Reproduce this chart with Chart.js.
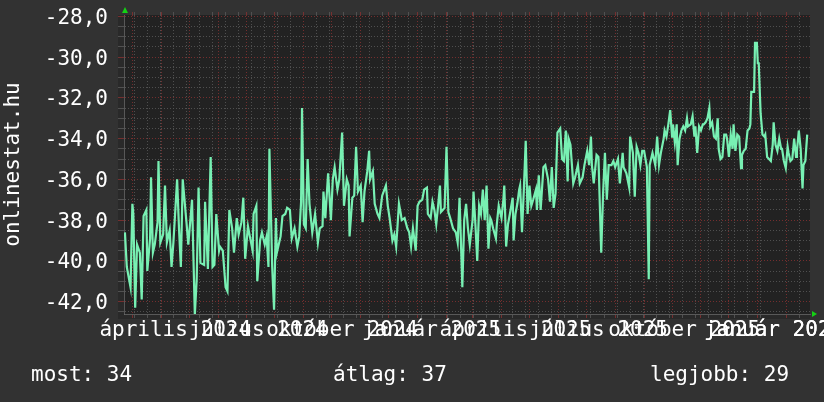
<!DOCTYPE html>
<html lang="hu">
<head>
<meta charset="utf-8">
<title>onlinestat.hu</title>
<script src="https://cdn.jsdelivr.net/npm/chart.js@4/dist/chart.umd.min.js"></script>
<style>
  html, body { margin: 0; padding: 0; background: #323232; }
  #doboz { position: relative; width: 824px; height: 402px; overflow: hidden; }
  #grafikon { position: absolute; left: 0; top: 0; }
  .stat { position: absolute; top: 362px; font: 21px 'DejaVu Sans Mono', monospace; line-height: 24px; color: #fff; white-space: pre; }
</style>
</head>
<body>
<div id="doboz">
  <canvas id="grafikon" width="824" height="402"></canvas>
  <div class="stat" id="most" style="left:31px"></div>
  <div class="stat" id="atlag" style="left:333px"></div>
  <div class="stat" id="legjobb" style="left:650px"></div>
</div>
<script>
// napok: eltelt napok 2024-01-01 ota
const napok = [
  52, 54, 56, 58, 60, 61, 63, 65, 68, 70, 72, 75, 76, 79, 80, 82, 84, 87, 88, 90,
  93, 95, 97, 100, 102, 104, 108, 110, 112, 114, 118, 120, 124, 127, 129, 131, 133, 137, 138, 141,
  144, 146, 148, 150, 153, 154, 157, 160, 162, 164, 167, 169, 172, 174, 177, 179, 181, 184, 186, 189,
  190, 193, 194, 197, 199, 202, 204, 206, 207, 210, 212, 214, 215, 219, 221, 224, 226, 229, 231, 234,
  237, 239, 241, 242, 244, 246, 248, 250, 253, 255, 256, 259, 261, 264, 265, 267, 270, 273, 275, 277,
  280, 282, 285, 287, 290, 292, 293, 296, 298, 300, 302, 305, 307, 309, 312, 314, 315, 318, 320, 323,
  325, 328, 332, 334, 336, 339, 341, 343, 346, 348, 349, 352, 355, 357, 359, 361, 364, 366, 368, 371,
  373, 376, 377, 380, 382, 384, 386, 388, 390, 391, 393, 395, 397, 399, 401, 404, 407, 409, 411, 414,
  416, 418, 420, 422, 425, 426, 428, 430, 432, 434, 436, 438, 440, 442, 444, 445, 447, 450, 451, 453,
  456, 458, 459, 461, 463, 465, 468, 469, 471, 473, 475, 476, 478, 480, 482, 484, 486, 488, 490, 493,
  494, 496, 498, 501, 503, 506, 508, 510, 512, 514, 516, 519, 521, 523, 525, 527, 528, 530, 533, 535,
  538, 540, 543, 545, 548, 550, 552, 553, 555, 558, 560, 563, 565, 567, 569, 571, 574, 576, 578, 581,
  583, 586, 587, 590, 593, 594, 597, 599, 601, 603, 605, 607, 609, 612, 614, 615, 618, 620, 621, 623,
  625, 627, 630, 631, 633, 635, 637, 639, 640, 642, 644, 645, 647, 649, 651, 653, 655, 656, 659, 661,
  663, 664, 666, 668, 670, 672, 673, 675, 677, 679, 680, 682, 684, 686, 688, 689, 691, 693, 695, 697,
  698, 700, 702, 704, 705, 707, 709, 711, 713, 714, 716, 718, 720, 722, 723, 724, 727, 728, 730, 731,
  732, 734, 736, 738, 739, 741, 743, 745, 747, 748, 750, 752, 754, 756, 757, 759, 761, 763, 764, 766,
  768, 770, 772, 773, 775, 777, 779, 780, 782, 784
];

const ertekek = [
  -38.6, -40.3, -40.8, -41.3, -37.2, -37.7, -42.3, -39.2, -39.6, -41.9, -37.8, -37.5, -40.5, -38.9, -35.9, -39.6, -39.2, -38.1, -35.1, -39.1,
  -38.7, -36.3, -39.1, -38.5, -40.3, -39.1, -36.0, -38.4, -40.3, -36.0, -38.1, -39.2, -37.0, -42.65, -40.9, -36.4, -40.1, -40.2, -37.1, -40.4,
  -34.9, -40.3, -40.2, -37.7, -39.5, -39.3, -39.5, -41.3, -41.5, -37.5, -38.4, -39.6, -37.9, -38.7, -38.1, -36.9, -39.9, -38.3, -38.8, -39.5,
  -37.7, -37.3, -41.0, -39.0, -38.6, -39.2, -38.8, -40.3, -34.5, -40.3, -42.4, -37.9, -39.6, -38.8, -37.8, -37.7, -37.4, -37.5, -38.9, -38.4,
  -39.3, -38.8, -37.1, -32.5, -38.2, -38.4, -35.0, -37.2, -38.6, -38.0, -37.7, -39.1, -38.4, -38.3, -36.6, -37.9, -35.7, -38.0, -36.0, -35.4,
  -36.5, -36.0, -33.7, -37.3, -36.0, -36.3, -38.8, -36.9, -36.8, -34.4, -36.6, -36.3, -38.1, -36.6, -35.6, -34.6, -36.0, -35.6, -37.2, -37.7,
  -37.9, -36.8, -36.3, -37.3, -37.9, -39.0, -38.7, -39.3, -37.2, -37.7, -38.0, -37.9, -38.4, -38.6, -39.3, -38.4, -39.5, -37.3, -37.1, -37.0,
  -36.5, -36.4, -37.7, -37.9, -37.1, -37.5, -38.2, -37.3, -36.3, -37.6, -37.5, -37.4, -34.4, -37.6, -37.9, -38.4, -38.6, -39.1, -36.9, -41.3,
  -38.0, -37.2, -38.4, -39.2, -38.0, -36.6, -38.2, -40.0, -37.3, -37.7, -36.5, -38.0, -36.3, -39.4, -37.9, -38.0, -38.4, -38.9, -38.2, -37.3,
  -37.9, -37.0, -36.3, -39.3, -38.2, -37.7, -36.9, -39.0, -37.7, -37.2, -36.5, -36.3, -38.6, -36.5, -34.1, -37.7, -36.3, -37.3, -37.0, -36.5,
  -37.5, -35.8, -37.5, -35.4, -35.3, -36.0, -37.1, -35.4, -37.4, -36.7, -33.7, -33.5, -35.0, -35.1, -33.6, -36.1, -34.0, -34.3, -36.2, -35.9,
  -35.3, -36.2, -35.9, -35.3, -34.6, -35.3, -33.9, -35.3, -36.2, -34.8, -34.9, -39.6, -36.7, -34.7, -37.0, -35.3, -35.3, -35.1, -35.4, -35.0,
  -36.2, -34.7, -35.4, -35.7, -36.4, -33.9, -34.7, -36.85, -34.4, -34.7, -35.3, -34.6, -34.6, -35.4, -40.9, -35.3, -34.7, -35.1, -35.3, -33.9,
  -35.3, -34.7, -34.0, -33.6, -33.9, -33.3, -32.6, -33.9, -33.3, -34.2, -33.3, -35.3, -34.0, -33.6, -33.4, -33.6, -33.0, -33.4, -33.3, -32.9,
  -33.9, -33.4, -34.7, -33.4, -33.6, -33.3, -33.3, -33.2, -33.0, -32.5, -33.4, -33.2, -33.9, -34.0, -33.0, -34.5, -35.0, -34.9, -33.8, -33.8,
  -34.0, -34.9, -33.8, -34.5, -33.3, -34.6, -33.8, -33.9, -35.45, -34.8, -34.6, -34.5, -33.6, -33.5, -33.3, -31.7, -31.7, -29.3, -29.3, -30.3,
  -30.3, -32.75, -33.8, -33.9, -33.8, -34.9, -35.0, -35.1, -34.3, -33.2, -34.3, -34.6, -34.0, -34.5, -34.5, -35.1, -35.45, -34.4, -34.7, -35.1,
  -35.0, -34.0, -34.9, -34.6, -33.6, -34.5, -36.45, -35.3, -35.1, -33.8
];

// honapok elso napjai (voros racs)
const honapKezdetek = [60, 91, 121, 152, 182, 213, 244, 274, 305, 335, 366, 397, 425, 456, 486, 517, 547, 578, 609, 639, 670, 700, 731, 762];

// feliratok a honapok kozepen
const cimkeNapok = [106, 195, 285, 381, 471, 560, 652, 748];
const cimkek = ['április 2024', 'július 2024', 'október 2024', 'január 2025', 'április 2025', 'július 2025', 'október 2025', 'január 2026'];

const yFoertekek = [-42, -40, -38, -36, -34, -32, -30, -28];

const statok = { most: 'most: 34', atlag: 'átlag: 37', legjobb: 'legjobb: 29' };

const xMin = 51, xMax = 787;
const yMin = -42.61, yMax = -27.93;

const voros = 'rgba(125,48,48,0.9)';
const szurke = 'rgba(82,82,82,0.95)';
const atlatszo = 'rgba(0,0,0,0)';

let ketHetes = [];
for (let n = 62; n <= xMax; n += 14) {
    if (!honapKezdetek.includes(n)) ketHetes.push(n);
}

let yReszek = [];
for (let k = -85; k <= -56; k++) {
    yReszek.push(k / 2);
}

function xTickek(scale) {
    let lista = [];
    ketHetes.concat(honapKezdetek, cimkeNapok).forEach(v => {
        if (v >= xMin && v <= xMax) lista.push({ value: v });
    });
    lista.sort((a, b) => a.value - b.value);
    scale.ticks = lista;
}

function xSzin(ctx) {
    if (!ctx.tick) return szurke;
    const v = ctx.tick.value;
    if (honapKezdetek.includes(v)) return voros;
    if (cimkeNapok.includes(v)) return atlatszo;
    return szurke;
}

function ySzin(ctx) {
    if (!ctx.tick) return szurke;
    return yFoertekek.includes(ctx.tick.value) ? voros : szurke;
}

const hatter = {
    id: 'hatter',
    beforeDraw(chart) {
        const { ctx, chartArea: a } = chart;
        ctx.save();
        ctx.fillStyle = '#323232';
        ctx.fillRect(0, 0, chart.width, chart.height);
        ctx.fillStyle = '#292929';
        ctx.fillRect(a.left - 6, a.top, a.right - a.left + 6, a.bottom - a.top + 5);
        ctx.fillStyle = '#222222';
        ctx.fillRect(a.left, a.top, a.right - a.left, a.bottom - a.top);
        ctx.restore();
    },
    afterDraw(chart) {
        const { ctx, chartArea: a } = chart;
        ctx.save();
        ctx.fillStyle = '#14d214';
        ctx.beginPath();
        ctx.moveTo(a.left - 2, a.top - 2);
        ctx.lineTo(a.left + 4, a.top - 2);
        ctx.lineTo(a.left + 1, a.top - 8);
        ctx.closePath();
        ctx.fill();
        ctx.beginPath();
        ctx.moveTo(a.right + 2, a.bottom - 3);
        ctx.lineTo(a.right + 2, a.bottom + 3);
        ctx.lineTo(a.right + 7, a.bottom);
        ctx.closePath();
        ctx.fill();
        ctx.restore();
    }
};

Chart.defaults.font.family = "'DejaVu Sans Mono', monospace";
Chart.defaults.color = '#ffffff';

const pontok = napok.map((nap, i) => ({ x: nap, y: ertekek[i] }));

const grafikon = new Chart(document.getElementById('grafikon'), {
    type: 'line',
    data: {
        datasets: [{
            label: 'onlinestat.hu',
            data: pontok,
            borderColor: '#78f0b3',
            borderWidth: 2.2,
            pointRadius: 0,
            tension: 0,
            fill: false
        }]
    },
    options: {
        responsive: false,
        devicePixelRatio: 1,
        animation: false,
        events: [],
        layout: { padding: { top: 12, left: 0, right: 14, bottom: 48 } },
        plugins: { legend: { display: false }, tooltip: { enabled: false } },
        scales: {
            x: {
                type: 'linear',
                position: 'bottom',
                min: xMin,
                max: xMax,
                afterBuildTicks: xTickek,
                afterFit(scale) {
                    scale.height = 40;
                    scale.paddingLeft = 0;
                    scale.paddingRight = 0;
                },
                grid: { color: xSzin, tickColor: xSzin, lineWidth: 1, tickLength: 4 },
                border: { display: true, color: 'rgba(110,110,110,0.7)', dash: [1, 2] },
                ticks: {
                    autoSkip: false,
                    maxRotation: 0,
                    minRotation: 0,
                    padding: 0,
                    color: '#ffffff',
                    font: { size: 21 },
                    callback: v => {
                        const i = cimkeNapok.indexOf(v);
                        return i >= 0 ? cimkek[i] : '';
                    }
                }
            },
            x2: {
                type: 'linear',
                axis: 'x',
                position: 'top',
                min: xMin,
                max: xMax,
                afterBuildTicks: xTickek,
                afterFit(scale) {
                    scale.height = 3;
                    scale.paddingLeft = 0;
                    scale.paddingRight = 0;
                },
                grid: { drawOnChartArea: false, color: xSzin, tickColor: xSzin, tickLength: 3 },
                border: { display: false },
                ticks: { display: false }
            },
            y: {
                type: 'linear',
                min: yMin,
                max: yMax,
                afterBuildTicks: scale => {
                    scale.ticks = yReszek.map(v => ({ value: v }));
                },
                afterFit(scale) {
                    scale.width = 124;
                    scale.paddingTop = 0;
                    scale.paddingBottom = 0;
                },
                grid: { color: ySzin, tickColor: ySzin, lineWidth: 1, tickLength: 6 },
                border: { display: true, color: 'rgba(110,110,110,0.7)', dash: [1, 2] },
                title: {
                    display: true,
                    text: 'onlinestat.hu',
                    color: '#ffffff',
                    font: { size: 21 },
                    padding: { top: 1, bottom: 0 }
                },
                ticks: {
                    autoSkip: false,
                    padding: 10,
                    labelOffset: 2,
                    color: '#ffffff',
                    font: { size: 21 },
                    callback: v => yFoertekek.includes(v) ? v.toFixed(1).replace('.', ',') : ''
                }
            }
        }
    },
    plugins: [hatter]
});

document.getElementById('most').textContent = statok.most;
document.getElementById('atlag').textContent = statok.atlag;
document.getElementById('legjobb').textContent = statok.legjobb;
</script>
</body>
</html>
